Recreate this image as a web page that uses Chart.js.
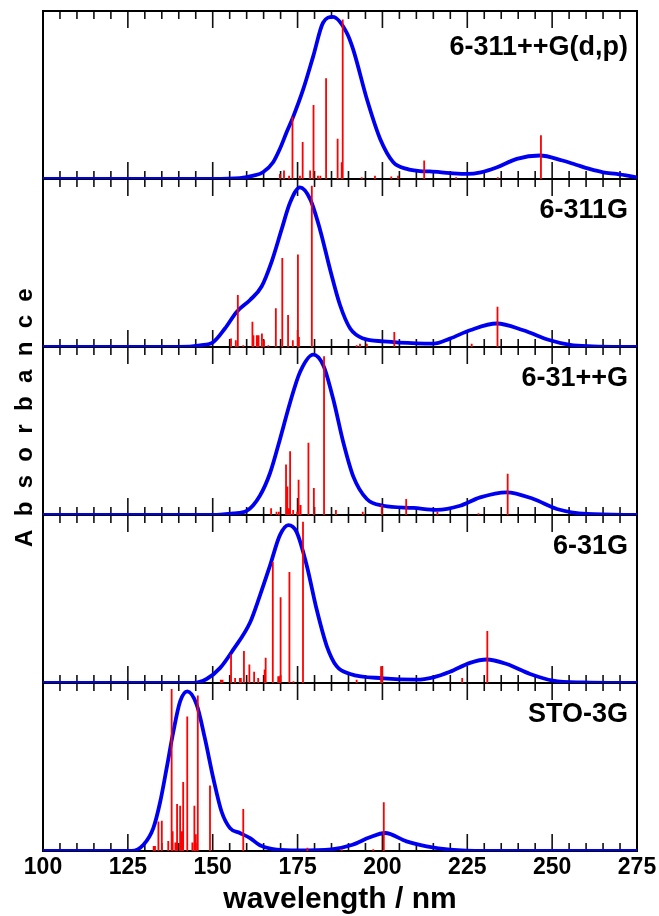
<!DOCTYPE html>
<html><head><meta charset="utf-8">
<script src="https://cdn.jsdelivr.net/npm/chart.js@4.4.1/dist/chart.umd.min.js"></script>
<style>html,body{margin:0;padding:0;background:#fff;}#wrap{position:relative;width:659px;height:916px;}</style>
</head><body><div id="wrap"><canvas id="c" width="659" height="916"></canvas></div>
<script>
// ---------- data ----------
const xTickValues = [100,125,150,175,200,225,250,275];
const panelNames = ['6-311++G(d,p)','6-311G','6-31++G','6-31G','STO-3G'];
const xLabel = 'wavelength / nm';
const yLabel = 'A  b  s  o  r  b  a  n  c  e';

// blue broadened spectra (wavelength, relative absorbance)
const curve1X = [100,150,158,162,164.8,167.8,169.8,171.8,173.7,176.6,179.6,182.5,185.4,189.5,191.4,195.5,199.3,203.2,207.2,211,214,220,225,229,233.8,239.6,246.4,253,257,261,265,269,275];
const curve1Y = [0,0,0.005,0.02,0.04,0.10,0.18,0.28,0.37,0.53,0.73,0.93,0.965,0.87,0.77,0.47,0.24,0.10,0.06,0.047,0.045,0.035,0.03,0.04,0.07,0.12,0.14,0.11,0.085,0.06,0.04,0.03,0.01];

const curve2X = [100,140,146.3,150.2,153.6,157.1,161,164.4,167.4,170.3,172.8,175.7,178.7,181.6,184.6,187.5,190.5,194.4,200.3,210.1,215,219.9,225.8,233.7,241.5,249.4,255.3,262,275];
const curve2Y = [0,0,0.01,0.03,0.11,0.21,0.28,0.36,0.51,0.70,0.86,0.95,0.88,0.70,0.46,0.25,0.11,0.05,0.034,0.022,0.02,0.05,0.10,0.14,0.10,0.04,0.012,0.004,0];

const curve3X = [100,150,156.1,160,163.9,166.9,169.8,172.8,175.7,179.6,182.6,185.5,188.5,191.4,195.4,200.3,209.1,216,222.9,228.8,236.6,244.5,251.4,260.2,275];
const curve3Y = [0,0,0.01,0.025,0.115,0.25,0.45,0.67,0.85,0.955,0.89,0.69,0.43,0.23,0.095,0.055,0.042,0.03,0.055,0.105,0.135,0.095,0.036,0.006,0];

const curve4X = [100,144.3,148.2,152.2,156.1,161,163.9,166.9,169.8,172.3,174.7,177.7,180.6,183.6,186.5,190.5,200.3,210.1,215,219.9,225.8,230.7,236.6,243.5,250.3,259,275];
const curve4Y = [0,0,0.024,0.09,0.20,0.36,0.52,0.70,0.88,0.94,0.90,0.70,0.44,0.22,0.10,0.054,0.028,0.02,0.034,0.067,0.12,0.14,0.113,0.054,0.014,0.003,0];

const curve5X = [100,126.1,129.6,132.5,134.5,136.4,138.4,140.4,142.5,145.3,147.7,150.2,152.6,155.1,158,161,163.9,168.8,175,185,191.2,196.1,200.8,207.1,213,219.9,230,275];
const curve5Y = [0,0,0.037,0.136,0.29,0.49,0.71,0.89,0.95,0.87,0.67,0.43,0.235,0.136,0.107,0.077,0.034,0.008,0.003,0.01,0.037,0.08,0.107,0.057,0.028,0.008,0,0];

// red stick spectra (wavelength, relative strength)
const sticks1W = [169.8,171,172.5,173.5,175.7,176.5,178.7,179.7,181,181.7,183.4,186.8,188.0,188.3,193.9,197.8,202.6,204.6,212.3,221.7,234,246.7];
const sticks1H = [0.03,0.05,0.02,0.37,0.02,0.22,0.05,0.44,0.02,0.02,0.60,0.24,0.10,0.95,0.01,0.02,0.015,0.02,0.11,0.01,0.01,0.26];

const sticks2W = [155.4,156.8,157.4,159,161.7,162,163,163.5,164.5,165.1,166.4,168.6,170.5,172.2,173.6,175.1,175.4,179.2,192.4,193.4,195.4,203.5,226.3,233.9];
const sticks2H = [0.05,0.04,0.31,0.01,0.15,0.07,0.07,0.07,0.08,0.04,0.01,0.23,0.53,0.19,0.04,0.55,0.06,0.96,0.01,0.02,0.02,0.09,0.02,0.24];

const sticks3W = [167.2,168.8,169.5,171.6,172,172.3,172.8,173.7,174.9,175.3,175.9,178.2,179.8,182.8,186.3,194.2,199.8,207,216.2,228.3,236.9];
const sticks3H = [0.04,0.02,0.02,0.30,0.17,0.04,0.38,0.03,0.02,0.21,0.06,0.43,0.16,0.945,0.03,0.02,0.06,0.095,0.02,0.01,0.245];

const sticks4W = [152.4,152.9,155.4,156.6,158,158.3,159.2,160.8,162.2,163.4,165.3,165.6,167.7,169.3,169.6,170,172.6,173.8,176.6,192.4,199.6,199.9,223.5,230.9];
const sticks4H = [0.02,0.02,0.17,0.03,0.03,0.03,0.19,0.11,0.067,0.03,0.08,0.15,0.72,0.04,0.04,0.51,0.66,0.01,0.96,0.02,0.10,0.10,0.03,0.31];

const sticks5W = [132.6,133,134,135,136.9,137.9,138.2,139,139.5,140.4,140.9,141.3,142.5,144,144.6,145,145.6,149.2,159,177.9,188,197.3,200.4];
const sticks5H = [0.03,0.03,0.175,0.18,0.06,0.965,0.117,0.05,0.28,0.27,0.117,0.41,0.80,0.05,0.27,0.10,0.925,0.39,0.25,0.02,0.01,0.01,0.29];

// ---------- build ----------
const FONT = '"Liberation Sans", Arial, Helvetica, sans-serif';
Chart.defaults.font.family = FONT;
Chart.defaults.color = '#000';

const curvesX = [curve1X,curve2X,curve3X,curve4X,curve5X];
const curvesY = [curve1Y,curve2Y,curve3Y,curve4Y,curve5Y];
const sticksW = [sticks1W,sticks2W,sticks3W,sticks4W,sticks5W];
const sticksH = [sticks1H,sticks2H,sticks3H,sticks4H,sticks5H];

const datasets = [];
for (let i = 0; i < 5; i++) {
  const seg = [];
  sticksW[i].forEach((w, k) => { seg.push({x:w,y:0},{x:w,y:sticksH[i][k]},{x:w,y:null}); });
  datasets.push({
    label:'sticks'+i, data:seg, yAxisID:'y'+i, borderColor:'#ff0000', borderWidth:1.8,
    pointRadius:0, spanGaps:false, order:0, tension:0
  });
  datasets.push({
    label:'curve'+i, data:curvesX[i].map((x,k)=>({x, y:curvesY[i][k]})), yAxisID:'y'+i,
    borderColor:'#0000f0', borderWidth:3.8, pointRadius:0, cubicInterpolationMode:'monotone', order:1
  });
}

const scales = {
  x: {
    type:'linear', position:'bottom', min:100, max:275,
    afterBuildTicks: s => { s.ticks = xTickValues.map(v => ({value:v})); },
    ticks:{ autoSkip:false, maxRotation:0, padding:2, color:'#000',
            font:{family:FONT, size:23, weight:'bold', lineHeight:'30px'} },
    grid:{display:false, drawTicks:false}, border:{display:false},
    title:{display:true, text:xLabel, color:'#000', padding:{top:0,bottom:1},
           font:{family:FONT, size:30, weight:'bold', lineHeight:1.0}}
  },
  ytitle: {
    type:'linear', position:'left', min:0, max:1,
    ticks:{display:false}, grid:{display:false, drawTicks:false}, border:{display:false},
    title:{display:true, text:'    ' + yLabel, color:'#000', padding:{top:13,bottom:6},
           font:{family:FONT, size:24, weight:'bold', lineHeight:1.0}}
  }
};
for (let i = 4; i >= 0; i--) {
  scales['y'+i] = {
    type:'linear', position:'left', stack:'panels', stackWeight:1, min:0, max:1,
    ticks:{display:false}, grid:{display:false, drawTicks:false}, border:{display:false},
    title:{display:false}
  };
}

const panelDecor = {
  id:'panelDecor',
  beforeDatasetsDraw(chart) {
    const ctx = chart.ctx, xs = chart.scales.x, a = chart.chartArea;
    ctx.save();
    ctx.strokeStyle = '#111';
    ctx.lineWidth = 1.6;
    for (let i = 0; i < 5; i++) {
      const ys = chart.scales['y'+i];
      for (let v = 100; v <= 275; v += 5) {
        const px = xs.getPixelForValue(v);
        const len = (v % 25 === 0) ? 17 : 8;
        ctx.beginPath();
        ctx.moveTo(px, ys.top); ctx.lineTo(px, ys.top + len);
        ctx.moveTo(px, ys.bottom); ctx.lineTo(px, ys.bottom - len);
        ctx.stroke();
      }
    }
    ctx.lineWidth = 2;
    ctx.strokeStyle = '#000';
    for (let i = 0; i < 4; i++) {
      const ys = chart.scales['y'+i];
      ctx.beginPath(); ctx.moveTo(a.left, ys.bottom); ctx.lineTo(a.right, ys.bottom); ctx.stroke();
    }
    ctx.strokeRect(a.left, a.top, a.right - a.left, a.bottom - a.top);
    ctx.restore();
  },
  afterDatasetsDraw(chart) {
    const ctx = chart.ctx, a = chart.chartArea;
    const offs = [37,32,32,32,32];
    ctx.save();
    ctx.fillStyle = '#000';
    ctx.font = 'bold 27px ' + FONT;
    ctx.textAlign = 'right';
    ctx.textBaseline = 'middle';
    for (let i = 0; i < 5; i++) {
      const ys = chart.scales['y'+i];
      ctx.fillText(panelNames[i], a.right - 9, ys.top + offs[i]);
    }
    ctx.restore();
  }
};

new Chart(document.getElementById('c'), {
  type:'line',
  data:{ datasets },
  options:{
    responsive:false, devicePixelRatio:1, animation:false,
    layout:{ padding:{left:0, right:22, top:11, bottom:0} },
    plugins:{ legend:{display:false}, tooltip:{enabled:false} },
    scales
  },
  plugins:[panelDecor]
});
</script></body></html>
